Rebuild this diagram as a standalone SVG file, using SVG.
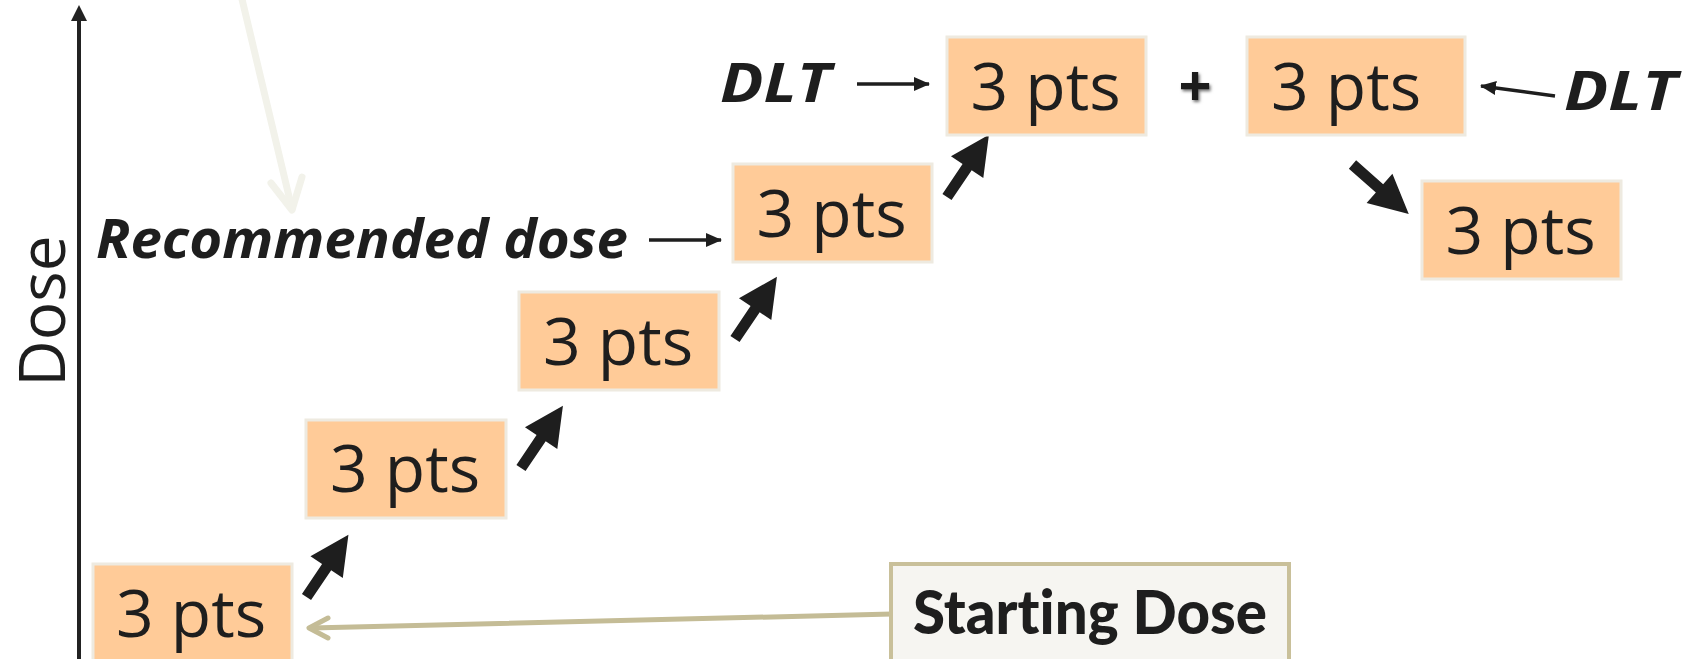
<svg xmlns="http://www.w3.org/2000/svg" width="1688" height="659" viewBox="0 0 1688 659">
  <style>
    .step rect { fill: #FFCB98; stroke: #EEEAE0; stroke-width: 3; }
    .step text { font-family: "Open Sans", "Noto Sans", sans-serif; font-size: 66px; fill: #1E1E1E; text-anchor: middle; }
    .label { font-family: "Open Sans", "Noto Sans", sans-serif; font-weight: bold; font-style: italic; font-size: 54px; fill: #1E1E1E; }
    .thin { stroke: #1E1E1E; stroke-width: 3.5; fill: none; }
    .block { fill: #1E1E1E; }
  </style>
  <defs>
    <marker id="tri" markerUnits="userSpaceOnUse" markerWidth="16" markerHeight="16" viewBox="0 0 16 16" refX="15" refY="8" orient="auto">
      <path d="M0,1 L16,8 L0,15 Z" fill="#1E1E1E"/>
    </marker>
    <!-- block arrow pointing along +x, tail at origin -->
    <polygon id="blk" points="0,-5.5 36,-5.5 36,-19.5 75,0 36,19.5 36,5.5 0,5.5"/>
    <filter id="soft" x="-50%" y="-50%" width="200%" height="200%">
      <feDropShadow dx="1.5" dy="2" stdDeviation="1.5" flood-color="#000" flood-opacity="0.55"/>
    </filter>
  </defs>

  <!-- axis and connectors -->
  <g id="connectors">
    <line x1="79" y1="659" x2="79" y2="18" stroke="#222" stroke-width="4"/>
    <polygon points="79,5 71,21 87,21" fill="#222"/>

    <!-- pale pointer into the recommended-dose row -->
    <g stroke="#F2F2EA" stroke-width="7" stroke-linecap="round" fill="none">
      <line x1="241" y1="-5" x2="292" y2="209"/>
      <polyline points="271,183 292,210 302,177" stroke-linejoin="round"/>
    </g>

    <!-- starting dose pointer -->
    <g stroke="#C4BC96" stroke-width="5" stroke-linecap="round" fill="none">
      <line x1="892" y1="614" x2="311" y2="628"/>
      <polyline points="328,618 309,628 328,638" stroke-linejoin="round"/>
    </g>

    <line class="thin" x1="649" y1="240" x2="721" y2="240" marker-end="url(#tri)"/>
    <line class="thin" x1="857" y1="84" x2="929" y2="84" marker-end="url(#tri)"/>
    <line class="thin" x1="1555" y1="96" x2="1481" y2="86" marker-end="url(#tri)"/>

    <g class="block">
      <use href="#blk" transform="translate(306.5,597) rotate(-56)"/>
      <use href="#blk" transform="translate(521,468) rotate(-56)"/>
      <use href="#blk" transform="translate(735,339) rotate(-56)"/>
      <use href="#blk" transform="translate(947,197) rotate(-56)"/>
      <use href="#blk" transform="translate(1352.5,164.5) rotate(41.4)"/>
    </g>
  </g>

  <!-- escalation steps -->
  <g id="step1" class="step"><rect x="93" y="564" width="199" height="100"/><text x="191" y="637">3 pts</text></g>
  <g id="step2" class="step"><rect x="306" y="420" width="200" height="98"/><text x="405" y="492">3 pts</text></g>
  <g id="step3" class="step"><rect x="519" y="292" width="200" height="98"/><text x="618" y="365">3 pts</text></g>
  <g id="step4" class="step"><rect x="733" y="164" width="199" height="98"/><text x="831.5" y="237">3 pts</text></g>
  <g id="step5" class="step"><rect x="947" y="37" width="199" height="98"/><text x="1045.5" y="110">3 pts</text></g>
  <g id="step6" class="step"><rect x="1247" y="37" width="218" height="98"/><text x="1346" y="110">3 pts</text></g>
  <g id="step7" class="step"><rect x="1422" y="181" width="199" height="98"/><text x="1520.5" y="254">3 pts</text></g>

  <!-- starting dose callout -->
  <g id="starting-dose">
    <rect x="891" y="564" width="398" height="110" fill="#F6F5F1" stroke="#C9C09A" stroke-width="4"/>
    <text x="913" y="634" font-family="Lato, 'Open Sans', sans-serif" font-weight="900" font-size="61" fill="#1E1E1E" style="font-variant-ligatures: none; font-feature-settings: 'liga' 0;" textLength="354" lengthAdjust="spacingAndGlyphs">Starting Dose</text>
  </g>

  <!-- labels -->
  <g id="axis-label">
    <text transform="translate(65,311) rotate(-90)" text-anchor="middle" font-family="'Open Sans', 'Noto Sans', sans-serif" font-size="64" fill="#1E1E1E">Dose</text>
  </g>
  <g id="recommended-label">
    <text class="label" x="96" y="258" textLength="532" lengthAdjust="spacingAndGlyphs">Recommended dose</text>
  </g>
  <g id="dlt-left">
    <text class="label" x="720" y="102" textLength="111" lengthAdjust="spacingAndGlyphs">DLT</text>
  </g>
  <g id="dlt-right">
    <text class="label" x="1564" y="110" textLength="113" lengthAdjust="spacingAndGlyphs">DLT</text>
  </g>
  <g id="plus">
    <text x="1195" y="106" text-anchor="middle" font-family="'Open Sans', sans-serif" font-weight="bold" font-size="58" fill="#1E1E1E" filter="url(#soft)">+</text>
  </g>
</svg>
